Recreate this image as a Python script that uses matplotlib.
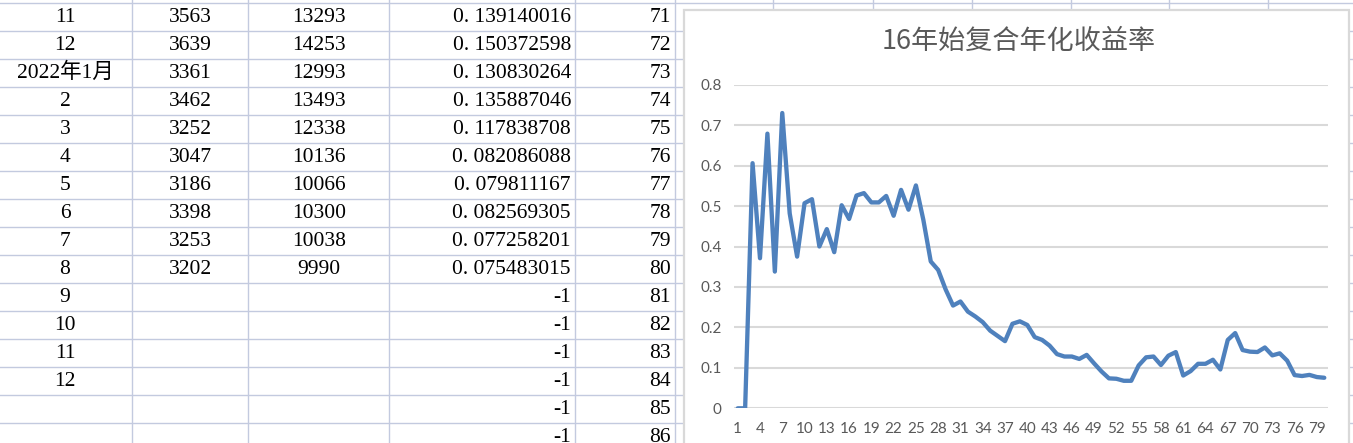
import matplotlib
matplotlib.use("Agg")
import matplotlib.pyplot as plt
from matplotlib.patches import Rectangle

# ---------------- data ----------------
# spreadsheet cells (visible part)
col_a = ["11", "12", "2022年1月", "2", "3", "4", "5", "6", "7", "8", "9", "10", "11", "12", "", ""]
col_b = ["3563", "3639", "3361", "3462", "3252", "3047", "3186", "3398", "3253", "3202", "", "", "", "", "", ""]
col_c = ["13293", "14253", "12993", "13493", "12338", "10136", "10066", "10300", "10038", "9990", "", "", "", "", "", ""]
col_d = ["0. 139140016", "0. 150372598", "0. 130830264", "0. 135887046", "0. 117838708",
         "0. 082086088", "0. 079811167", "0. 082569305", "0. 077258201", "0. 075483015",
         "-1", "-1", "-1", "-1", "-1", "-1"]
col_e = ["71", "72", "73", "74", "75", "76", "77", "78", "79", "80", "81", "82", "83", "84", "85", "86"]

# chart series: 16年始复合年化收益率, periods 1..80
periods = list(range(1, 81))
rates = [0, 0, 0.606, 0.371, 0.679, 0.338, 0.730, 0.482, 0.375, 0.507,
         0.517, 0.400, 0.443, 0.386, 0.502, 0.468, 0.526, 0.532, 0.509, 0.509,
         0.525, 0.476, 0.540, 0.491, 0.551, 0.466, 0.363, 0.342, 0.294, 0.254,
         0.264, 0.239, 0.227, 0.213, 0.192, 0.179, 0.166, 0.209, 0.215, 0.206,
         0.176, 0.169, 0.155, 0.134, 0.128, 0.128, 0.122, 0.132, 0.111, 0.091,
         0.074, 0.073, 0.068, 0.068, 0.106, 0.126, 0.128, 0.107, 0.130, 0.139,
         0.081, 0.092, 0.110, 0.110, 0.120, 0.096, 0.169, 0.186, 0.144, 0.140,
         0.139140016, 0.150372598, 0.130830264, 0.135887046, 0.117838708,
         0.082086088, 0.079811167, 0.082569305, 0.077258201, 0.075483015]
x_ticks = list(range(1, 81, 3))
y_ticks = [0, 0.1, 0.2, 0.3, 0.4, 0.5, 0.6, 0.7, 0.8]
title = "16年始复合年化收益率"

# ---------------- figure ----------------
W, H = 1353, 443
fig = plt.figure(figsize=(W / 100, H / 100), dpi=100)
fig.patch.set_facecolor("white")

bg = fig.add_axes([0, 0, 1, 1])
bg.set_xlim(0, W)
bg.set_ylim(H, 0)
bg.axis("off")

grid_c = "#c3cadf"
row_h = 28
row0 = 2.7
col_lines = [132, 248, 389, 575, 675, 773, 873, 972, 1071, 1169, 1268, 1367]
for i in range(17):
    bg.plot([0, W], [row0 + i * row_h] * 2, color=grid_c, lw=1, zorder=1)
for cx in col_lines:
    bg.plot([cx, cx], [0, H], color=grid_c, lw=1, zorder=1)

cell_font = ["Liberation Serif", "Noto Sans CJK SC"]
fs = 15.5
for i in range(len(col_a)):
    yc = row0 + i * row_h + 14.5
    if col_a[i]:
        bg.text(65, yc, col_a[i], ha="center", va="center", fontsize=fs, family=cell_font, color="black", zorder=2)
    if col_b[i]:
        bg.text(190, yc, col_b[i], ha="center", va="center", fontsize=fs, family=cell_font, color="black", zorder=2)
    if col_c[i]:
        bg.text(319, yc, col_c[i], ha="center", va="center", fontsize=fs, family=cell_font, color="black", zorder=2)
    if col_d[i]:
        bg.text(571, yc, col_d[i], ha="right", va="center", fontsize=fs, family=cell_font, color="black", zorder=2)
    bg.text(671, yc, col_e[i], ha="right", va="center", fontsize=fs, family=cell_font, color="black", zorder=2)

# chart area
bg.add_patch(Rectangle((684, 9.5), 664.5, 500, facecolor="white", edgecolor="#d9d9d9", lw=1.6, zorder=3))

fig.text(1019 / W, 1 - 41 / H, title, ha="center", va="center", fontsize=19.5,
         family=["Noto Sans CJK SC", "DejaVu Sans"], color="#595959", zorder=5)

# plot area
left, right, top, bottom = 734, 1328, 84.7, 408.3
ax = fig.add_axes([left / W, 1 - bottom / H, (right - left) / W, (bottom - top) / H])
ax.set_zorder(5)
ax.patch.set_alpha(0)
ax.plot(periods, rates, color="#4F81BD", lw=3.1, solid_joinstyle="round", solid_capstyle="round", zorder=3)
ax.set_xlim(0.5, 80.5)
ax.set_ylim(0, 0.8)
ax.set_yticks(y_ticks)
ax.set_yticklabels([f"{v:g}" for v in y_ticks])
ax.set_xticks(x_ticks)
ax.set_xticklabels([str(v) for v in x_ticks])
for s in ax.spines.values():
    s.set_visible(False)
ax.grid(axis="y", color="#d9d9d9", lw=1.5, zorder=1)
ax.set_axisbelow(True)
ax.tick_params(length=0, labelsize=11, labelcolor="#595959")
ax.tick_params(axis="y", pad=9)
ax.tick_params(axis="x", pad=10)
for lab in ax.get_xticklabels() + ax.get_yticklabels():
    lab.set_family("Lato")

fig.savefig("out.png", dpi=100)
